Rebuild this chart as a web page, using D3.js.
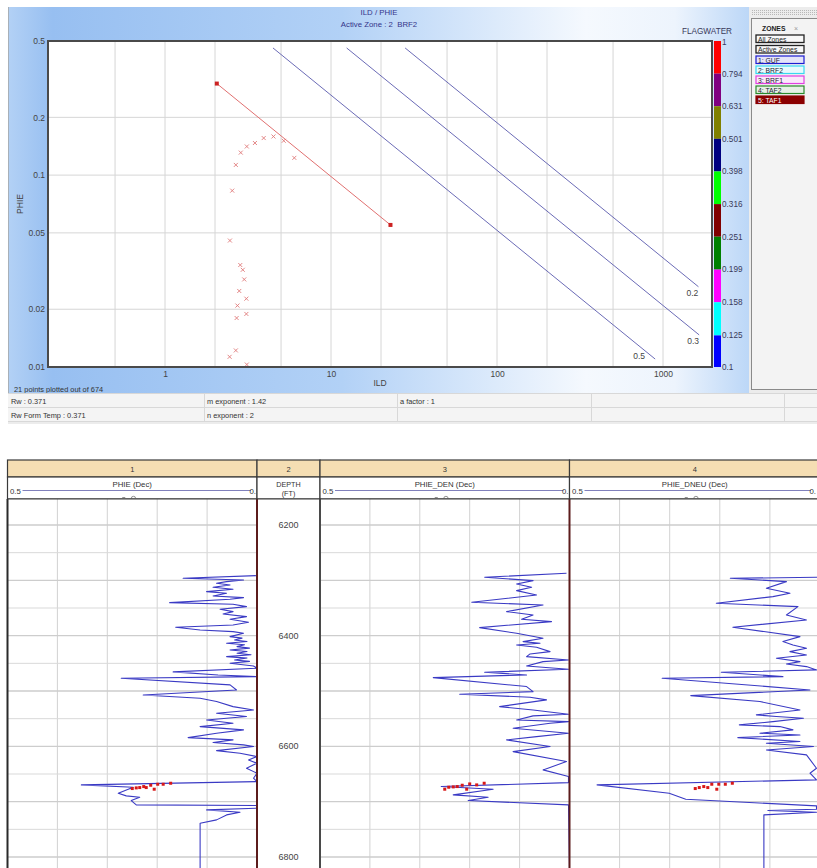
<!DOCTYPE html>
<html>
<head>
<meta charset="utf-8">
<script src="https://cdn.jsdelivr.net/npm/d3@7"></script>
<style>
  html, body { margin: 0; padding: 0; background: #fff; }
  svg { display: block; font-family: "Liberation Sans", Arial, sans-serif; }
</style>
</head>
<body>
<svg id="chart" width="817" height="868"></svg>
<script>
// ---------- Archie parameters ----------
const rw = 0.371, rwFormTemp = 0.371, mExp = 1.42, nExp = 2, aFactor = 1;
const pointsPlotted = 21, pointsTotal = 674;

// ---------- ILD / PHIE crossplot points (active zone BRF2) ----------
const ildValues  = [2.67, 2.86, 3.11, 3.48, 3.93, 4.50, 5.19, 6.01, 2.54, 2.46, 2.84,
                    2.94, 3.00, 2.80, 3.09, 2.73, 2.70, 3.09, 2.67, 2.45, 3.11];
const phieValues = [0.113, 0.131, 0.141, 0.147, 0.156, 0.159, 0.151, 0.123, 0.083, 0.0456, 0.0340,
                    0.0321, 0.0286, 0.0249, 0.0227, 0.0209, 0.0180, 0.0189, 0.0122, 0.0113, 0.0103];

// water line (Sw = 1) porosity span and Sw iso-lines
const waterLinePhi = [0.3, 0.055];
const swValues      = [0.2, 0.3, 0.5];
const swPhiTop      = [0.46, 0.46, 0.46];
const swPhiBottom   = [0.0262, 0.0147, 0.011];

// axis ticks
const ildTicks   = [1, 10, 100, 1000];
const ildGrid    = [0.5, 1, 2, 5, 10, 20, 50, 100, 200, 500, 1000];
const phieTicks  = [0.01, 0.02, 0.05, 0.1, 0.2, 0.5];
const phieGrid   = [0.02, 0.05, 0.1, 0.2];

// FLAGWATER colour key (top to bottom)
const flagTicks  = [1, 0.794, 0.631, 0.501, 0.398, 0.316, 0.251, 0.199, 0.158, 0.125, 0.1];
const flagColors = ["#ff0000", "#800080", "#808000", "#000080", "#00ff00",
                    "#800000", "#008000", "#ff00ff", "#00ffff", "#0000ff"];

// zones
const zoneButtons = ["All Zones", "Active Zones"];
const zoneLabels  = ["1: GUF", "2: BRF2", "3: BRF1", "4: TAF2", "5: TAF1"];
const zoneColors  = ["#1c1cd0", "#38d8f0", "#e040e0", "#2a8a2a", "#8b0000"];
const activeZone  = "2\u00a0 BRF2";

// ---------- log tracks ----------
const trackNumbers = ["1", "2", "3", "4"];
const trackTitles  = ["PHIE (Dec)", "DEPTH", "PHIE_DEN (Dec)", "PHIE_DNEU (Dec)"];
const depthLabels  = [6200, 6400, 6600, 6800];

// [depth ft, value dec]
const phieCurve = [
  [6291.5,0],[6296.3,0.148],[6299.3,0.027],[6302.3,0.061],[6305.4,0.081],[6308.4,0.054],[6312.6,0.088],
  [6316.2,0.048],[6320.4,0.101],[6323.4,0.061],[6328.2,0.088],[6331.2,0.027],[6334.3,0.054],[6340.3,0.175],
  [6343.3,0.048],[6347.5,0.021],[6352.3,0.074],[6356.5,0.048],[6360.8,0.068],[6365.6,0.021],[6370.4,0.054],
  [6375.8,0.017],[6380.6,0.048],[6384.8,0.163],[6389.7,0.114],[6392.7,0.048],[6395.7,0.027],[6401.7,0.054],
  [6404.5,0.030],[6407.7,0.045],[6410.5,0.020],[6413.8,0.061],[6416.5,0.025],[6419.8,0.040],[6422.5,0.015],
  [6425.8,0.054],[6428.5,0.020],[6431.8,0.040],[6434.5,0.012],[6437.8,0.061],[6440.5,0.020],[6443.9,0.045],
  [6446.5,0.015],[6449.9,0.054],[6454.7,0.007],[6458.9,0],[6465.5,0.168],[6471.0,0.078],[6474.0,0],
  [6477.0,0.272],[6489.0,0.054],[6498.1,0.041],[6507.1,0.228],[6513.1,0.114],[6519.1,0.081],[6528.2,0.048],
  [6534.2,0.007],[6540.2,0.081],[6546.2,0.021],[6552.3,0.101],[6558.3,0.048],[6564.3,0.114],[6570.3,0.027],
  [6576.3,0.081],[6584.2,0.138],[6588.4,0.048],[6593.2,0.088],[6597.4,0.027],[6600.4,0.007],[6607.7,0.081],
  [6612.5,0.034],[6618.5,0],[6624.5,0.017],[6630.5,0],[6639.6,0.021],[6648.6,0],[6657.6,0.007],[6663.7,0],
  [6669.7,0.352],[6673.9,0.248],[6684.7,0.278],[6689.5,0.262],[6692.0,0.235],[6698.0,0.252],[6705.8,0.242],
  [6707.0,0],[6711.8,0],[6714.9,0.101],[6719.1,0.034],[6723.9,0.061],[6732.9,0.081],[6738.9,0.114],[6820,0.114]
];
const phieDenCurve = [
  [6287.3,0.006],[6294.5,0.170],[6300.5,0.073],[6306.6,0.106],[6312.6,0.076],[6318.6,0.106],[6326.4,0.066],
  [6339.7,0.196],[6344.5,0.053],[6356.5,0.126],[6362.6,0.073],[6370.4,0.096],[6374.6,0.036],[6385.4,0.180],
  [6395.7,0.106],[6404.7,0.053],[6410.7,0.093],[6413.7,0.059],[6416.8,0.106],[6421.0,0.066],[6428.8,0.039],
  [6433.0,0.079],[6437.8,0.086],[6443.9,0.002],[6446.9,0.053],[6454.7,0.086],[6460.7,0.002],[6466.1,0.170],
  [6471.0,0.086],[6475.8,0.273],[6492.0,0.086],[6501.1,0.073],[6505.9,0.220],[6511.3,0.079],[6516.1,0.046],
  [6528.2,0.140],[6534.2,0.073],[6542.0,0.002],[6545.0,0.073],[6552.3,0.106],[6555.3,0.002],[6558.3,0.039],
  [6567.3,0.113],[6576.3,0.002],[6582.4,0.066],[6588.4,0.126],[6600.4,0.039],[6609.5,0.113],[6627.5,0.006],
  [6642.6,0.053],[6654.6,0.002],[6665.5,0.002],[6672.7,0.257],[6677.5,0.153],[6687.8,0.233],[6692.0,0.163],
  [6698.0,0.203],[6705.8,0.002],[6820,0]
];
const phieDneuCurve = [
  [6294.5,0.003],[6296.3,0.179],[6302.3,0.067],[6314.4,0.107],[6323.4,0.060],[6329.4,0.094],[6341.5,0.207],
  [6347.5,0.044],[6362.6,0.067],[6371.6,0.027],[6384.8,0.174],[6401.7,0.040],[6410.7,0.074],[6416.8,0.054],
  [6422.8,0.027],[6428.8,0.060],[6434.8,0.027],[6440.9,0.087],[6446.9,0.040],[6451.1,0.067],[6455.9,0.027],
  [6461.9,0.007],[6466.1,0.197],[6474.0,0.074],[6477.0,0.315],[6498.1,0.020],[6508.3,0.258],[6519.1,0.120],
  [6534.2,0.040],[6543.2,0.127],[6546.2,0.087],[6549.2,0.033],[6555.3,0.094],[6561.3,0.161],[6564.3,0.080],
  [6570.3,0.054],[6576.3,0.120],[6579.4,0.040],[6584.2,0.164],[6591.4,0.040],[6594.4,0.107],[6600.4,0.013],
  [6606.5,0.107],[6615.5,0.027],[6639.6,0.007],[6648.6,0.020],[6660.6,0.007],[6669.7,0.445],[6684.7,0.301],
  [6695.6,0.268],[6707.6,0.007],[6713.6,0.007],[6716.1,0.104],[6719.1,0.007],[6723.9,0.112],[6820,0.112]
];
// flagged samples shown in red on each track
const phieFlags = [[6676.3,0.250],[6675.1,0.242],[6674.5,0.235],[6672.7,0.227],[6674.5,0.222],
                   [6670.3,0.213],[6677.5,0.206],[6668.5,0.199],[6668.5,0.188],[6666.7,0.173]];
const phieDenFlags = [[6677.5,0.250],[6673.9,0.242],[6673.3,0.233],[6672.7,0.225],[6670.3,0.215],
                      [6677.5,0.206],[6667.9,0.200],[6669.7,0.186],[6666.7,0.171]];
const phieDneuFlags = [[6676.3,0.249],[6674.5,0.241],[6672.7,0.232],[6674.5,0.224],[6668.5,0.216],
                       [6677.5,0.206],[6668.5,0.202],[6668.5,0.189],[6666.7,0.175]];

// ================= drawing =================
const svg = d3.select("#chart");
const defs = svg.append("defs");
const FONT = 8.5;

// ---- crossplot panel background ----
const bg = defs.append("linearGradient").attr("id", "panelBg")
  .attr("x1", 0).attr("x2", 1).attr("y1", 0).attr("y2", 0);
[[0, "#b3d1f5"], [0.06, "#97bff1"], [0.45, "#b2d1f6"], [0.78, "#f5f9fe"],
 [0.9, "#edf4fd"], [1, "#bcd7f7"]].forEach(([o, c]) =>
  bg.append("stop").attr("offset", o).attr("stop-color", c));

svg.append("rect").attr("x", 8).attr("y", 7).attr("width", 741).attr("height", 386)
  .attr("fill", "url(#panelBg)");
svg.append("line").attr("x1", 8.5).attr("x2", 8.5).attr("y1", 7).attr("y2", 393)
  .attr("stroke", "#a8b0b8");

const P = { left: 48, right: 712, top: 41, bottom: 367 };
const x = d3.scaleLog().domain([0.2, 2000]).range([P.left + 1, P.right + 1]);
const y = d3.scaleLog().domain([0.01, 0.5]).range([P.bottom, P.top]);

svg.append("rect").attr("x", P.left).attr("y", P.top)
  .attr("width", P.right - P.left).attr("height", P.bottom - P.top).attr("fill", "#fff");

const plot = svg.append("g");
defs.append("clipPath").attr("id", "plotClip").append("rect")
  .attr("x", P.left).attr("y", P.top).attr("width", P.right - P.left).attr("height", P.bottom - P.top);

// grid
plot.selectAll(".vg").data(ildGrid).join("line")
  .attr("x1", d => x(d)).attr("x2", d => x(d)).attr("y1", P.top).attr("y2", P.bottom)
  .attr("stroke", "#d6d6d6").attr("stroke-width", 1);
plot.selectAll(".hg").data(phieGrid).join("line")
  .attr("x1", P.left).attr("x2", P.right).attr("y1", d => y(d)).attr("y2", d => y(d))
  .attr("stroke", "#d6d6d6").attr("stroke-width", 1);

// Archie resistivity for a given porosity and water saturation
const rt = (phi, sw) => aFactor * rw / (Math.pow(phi, mExp) * Math.pow(sw, nExp));

const lines = plot.append("g").attr("clip-path", "url(#plotClip)");
swValues.forEach((sw, i) => {
  const p0 = [rt(swPhiTop[i], sw), swPhiTop[i]];
  const p1 = [rt(swPhiBottom[i], sw), swPhiBottom[i]];
  lines.append("line")
    .attr("x1", x(p0[0])).attr("y1", y(p0[1])).attr("x2", x(p1[0])).attr("y2", y(p1[1]))
    .attr("stroke", "#5a5aae").attr("stroke-width", 0.9);
  const lx = x(p1[0]) + (sw === 0.5 ? -16 : -6);
  const ly = y(p1[1]) + (sw === 0.5 ? 0 : 9);
  plot.append("text").attr("x", lx).attr("y", ly).attr("text-anchor", "middle")
    .attr("font-size", FONT).attr("fill", "#444").text(String(sw));
});

// water line Sw = 1
const wl = waterLinePhi.map(p => [rt(p, 1), p]);
plot.append("line")
  .attr("x1", x(wl[0][0])).attr("y1", y(wl[0][1])).attr("x2", x(wl[1][0])).attr("y2", y(wl[1][1]))
  .attr("stroke", "#e07070").attr("stroke-width", 1);
plot.selectAll(".wlEnd").data(wl).join("rect")
  .attr("x", d => x(d[0]) - 2).attr("y", d => y(d[1]) - 2).attr("width", 4).attr("height", 4)
  .attr("fill", "#cc2222");

// crossplot points
plot.selectAll(".pt").data(ildValues.map((v, i) => [v, phieValues[i]])).join("path")
  .attr("transform", d => `translate(${x(d[0])},${y(d[1])})`)
  .attr("d", "M-2,-2L2,2M-2,2L2,-2")
  .attr("stroke", "#e07a7a").attr("stroke-width", 0.9).attr("fill", "none");

// frame
svg.append("rect").attr("x", P.left).attr("y", P.top)
  .attr("width", P.right - P.left).attr("height", P.bottom - P.top)
  .attr("fill", "none").attr("stroke", "#4a4a4a").attr("stroke-width", 2);

// axes
const yAxis = svg.append("g").attr("transform", `translate(${P.left},0)`)
  .call(d3.axisLeft(y).tickValues(phieTicks).tickSize(0).tickPadding(3).tickFormat(d => String(d)));
const xAxis = svg.append("g").attr("transform", `translate(0,${P.bottom})`)
  .call(d3.axisBottom(x).tickValues(ildTicks).tickSize(0).tickPadding(4).tickFormat(d => String(d)));
[xAxis, yAxis].forEach(a => {
  a.select(".domain").remove();
  a.selectAll("text").attr("font-size", FONT).attr("fill", "#444")
    .attr("font-family", "Liberation Sans, Arial, sans-serif");
});

svg.append("text").attr("x", 380).attr("y", 386).attr("text-anchor", "middle")
  .attr("font-size", FONT).attr("fill", "#444").text("ILD");
svg.append("text").attr("transform", "translate(23,204) rotate(-90)").attr("text-anchor", "middle")
  .attr("font-size", FONT).attr("fill", "#444").text("PHIE");

// titles
svg.append("text").attr("x", 379).attr("y", 15).attr("text-anchor", "middle")
  .attr("font-size", 7.8).attr("fill", "#34348a").text("ILD / PHIE");
svg.append("text").attr("x", 379).attr("y", 27).attr("text-anchor", "middle")
  .attr("font-size", 7.8).attr("fill", "#34348a").text("Active Zone : " + activeZone);

svg.append("text").attr("x", 14).attr("y", 392).attr("font-size", 7.4).attr("fill", "#333")
  .text(`${pointsPlotted} points plotted out of ${pointsTotal}`);

// ---- FLAGWATER colour key ----
const yFlag = d3.scaleLog().domain([0.1, 1]).range([P.bottom, P.top]);
const key = svg.append("g");
flagColors.forEach((c, i) => {
  key.append("rect").attr("x", 714).attr("width", 7)
    .attr("y", yFlag(flagTicks[i])).attr("height", yFlag(flagTicks[i + 1]) - yFlag(flagTicks[i]))
    .attr("fill", c);
});
key.selectAll(".fl").data(flagTicks).join("text")
  .attr("x", 722).attr("y", d => yFlag(d) + (d === 1 ? 1.5 : 0)).attr("dy", "0.35em")
  .attr("font-size", 8.2).attr("fill", "#3a3a5a").text(d => String(d));
svg.append("text").attr("x", 707).attr("y", 34).attr("text-anchor", "middle")
  .attr("font-size", 8.2).attr("fill", "#3a3a5a").text("FLAGWATER");

// ---- zones panel ----
const zp = svg.append("g");
zp.append("rect").attr("x", 749).attr("y", 7).attr("width", 68).attr("height", 386).attr("fill", "#ececec");
const dots = defs.append("pattern").attr("id", "dots").attr("width", 2).attr("height", 2)
  .attr("patternUnits", "userSpaceOnUse");
dots.append("rect").attr("width", 1).attr("height", 1).attr("fill", "#b8b8b8");
zp.append("rect").attr("x", 751).attr("y", 10).attr("width", 66).attr("height", 6).attr("fill", "url(#dots)");
zp.append("rect").attr("x", 751.5).attr("y", 18.5).attr("width", 66).attr("height", 371)
  .attr("fill", "#f3f3f3").attr("stroke", "#8a8a8a");
zp.append("text").attr("x", 762).attr("y", 31).attr("font-size", 6.8).attr("font-weight", "bold")
  .attr("fill", "#222").text("ZONES");
zp.append("text").attr("x", 794).attr("y", 31).attr("font-size", 7).attr("fill", "#999").text("×");

const btnY = [35, 45.5, 56, 66, 76, 86, 96];
zoneButtons.forEach((t, i) => {
  zp.append("rect").attr("x", 756).attr("y", btnY[i]).attr("width", 48).attr("height", 7.5)
    .attr("fill", "#f8f8f8").attr("stroke", "#222").attr("stroke-width", 1.3);
  zp.append("text").attr("x", 758).attr("y", btnY[i] + 6.6).attr("font-size", 6.8)
    .attr("fill", "#222").text(t);
});
zoneLabels.forEach((t, i) => {
  const last = i === zoneLabels.length - 1;
  const c = d3.color(zoneColors[i]);
  const fill = last ? zoneColors[i] : d3.interpolateRgb(zoneColors[i], "#fff")(0.88);
  zp.append("rect").attr("x", 756).attr("y", btnY[i + 2]).attr("width", 48).attr("height", 7.5)
    .attr("fill", fill).attr("stroke", c).attr("stroke-width", 1.2);
  zp.append("text").attr("x", 758).attr("y", btnY[i + 2] + 6.6).attr("font-size", 6.8)
    .attr("fill", last ? "#fff" : "#223").text(t);
});

// ---- parameter table ----
const infoRows = [
  [`Rw : ${rw}`, `m exponent : ${mExp}`, `a factor : ${aFactor}`],
  [`Rw Form Temp : ${rwFormTemp}`, `n exponent : ${nExp}`]
];
const colX = [8, 204, 397, 591, 784, 817];
const info = svg.append("g");
info.append("rect").attr("x", 8).attr("y", 393.5).attr("width", 809).attr("height", 28)
  .attr("fill", "#f4f4f4");
[393.5, 407.5, 421.5].forEach(yy => info.append("line").attr("x1", 8).attr("x2", 817)
  .attr("y1", yy).attr("y2", yy).attr("stroke", "#d8d8d8"));
colX.slice(1, 5).forEach(xx => info.append("line").attr("x1", xx + 0.5).attr("x2", xx + 0.5)
  .attr("y1", 393.5).attr("y2", 421.5).attr("stroke", "#d8d8d8"));
infoRows.forEach((row, r) => row.forEach((t, c) => {
  info.append("text").attr("x", colX[c] + 3).attr("y", 404 + r * 14)
    .attr("font-size", 7.4).attr("fill", "#333").text(t);
}));
info.append("rect").attr("x", 8).attr("y", 422).attr("width", 809).attr("height", 2).attr("fill", "#ececec");

// ================= log tracks =================
const L = { top: 460, h1: 477, h2: 499, bottom: 868 };
const trackX = [[7.5, 257], [257, 320], [320, 569.5], [569.5, 820]];
const yDepth = d3.scaleLinear().domain([6200, 6800]).range([525, 857]);
const logs = svg.append("g");

// headers
trackX.forEach(([x0, x1], i) => {
  logs.append("rect").attr("x", x0).attr("y", L.top).attr("width", x1 - x0).attr("height", L.h1 - L.top)
    .attr("fill", "#f5deb3").attr("stroke", "#3a3a3a").attr("stroke-width", 1.2);
  logs.append("rect").attr("x", x0).attr("y", L.h1).attr("width", x1 - x0).attr("height", L.h2 - L.h1)
    .attr("fill", "#fff").attr("stroke", "#3a3a3a").attr("stroke-width", 1.2);
  logs.append("text").attr("x", (x0 + x1) / 2).attr("y", 471.5).attr("text-anchor", "middle")
    .attr("font-size", 7.5).attr("fill", "#333").text(trackNumbers[i]);
});

// curve header contents
[0, 2, 3].forEach(i => {
  const [x0, x1] = trackX[i];
  const hx1 = Math.min(x1, 817);
  const cx = (x0 + x1) / 2;
  logs.append("text").attr("x", cx).attr("y", 487).attr("text-anchor", "middle")
    .attr("font-size", 7.8).attr("fill", "#333").text(trackTitles[i]);
  logs.append("line").attr("x1", x0 + 15).attr("x2", hx1 - 6).attr("y1", 490.5).attr("y2", 490.5)
    .attr("stroke", "#8080bb").attr("stroke-width", 1);
  logs.append("text").attr("x", x0 + 2.5).attr("y", 493.5).attr("font-size", 7.8)
    .attr("fill", "#333").text("0.5");
  logs.append("text").attr("x", hx1 - 1).attr("y", 493.5).attr("text-anchor", "end")
    .attr("font-size", 7.8).attr("fill", "#333").text("0.");
  // flag legend marks cut by the header edge
  logs.append("line").attr("x1", cx - 10).attr("x2", cx - 7).attr("y1", 497.5).attr("y2", 497.5)
    .attr("stroke", "#777").attr("stroke-width", 0.8);
  logs.append("path").attr("d", `M${cx - 1},498.5 a2.2,2.2 0 0 1 4.4,0`)
    .attr("fill", "none").attr("stroke", "#777").attr("stroke-width", 0.8);
});
logs.append("text").attr("x", 288.5).attr("y", 487).attr("text-anchor", "middle")
  .attr("font-size", 7.2).attr("fill", "#333").text("DEPTH");
logs.append("text").attr("x", 288.5).attr("y", 496).attr("text-anchor", "middle")
  .attr("font-size", 7.2).attr("fill", "#333").text("(FT)");

// data area
const gridDepths = d3.range(6200, 6851, 50);
const valueTicks = [0.4, 0.3, 0.2, 0.1];
const curveSets = { 0: [phieCurve, phieFlags], 2: [phieDenCurve, phieDenFlags], 3: [phieDneuCurve, phieDneuFlags] };

trackX.forEach(([x0, x1], i) => {
  const tg = logs.append("g");
  tg.append("rect").attr("x", x0).attr("y", L.h2).attr("width", x1 - x0).attr("height", L.bottom - L.h2)
    .attr("fill", "#fff");
  if (i === 1) {
    tg.selectAll(".dl").data(depthLabels).join("text")
      .attr("x", 288.5).attr("y", d => yDepth(d)).attr("dy", "0.35em").attr("text-anchor", "middle")
      .attr("font-size", 9).attr("fill", "#444").text(d => d);
    return;
  }
  const xs = d3.scaleLinear().domain([0.5, 0]).range([x0, x1]);
  tg.selectAll(".gv").data(valueTicks).join("line")
    .attr("x1", d => xs(d)).attr("x2", d => xs(d)).attr("y1", L.h2).attr("y2", L.bottom)
    .attr("stroke", "#d2d2d2").attr("stroke-width", 1);
  tg.selectAll(".gh").data(gridDepths).join("line")
    .attr("x1", x0).attr("x2", x1).attr("y1", d => yDepth(d)).attr("y2", d => yDepth(d))
    .attr("stroke", d => d % 100 === 0 ? "#cdcdcd" : "#d9d9d9")
    .attr("stroke-width", d => d % 100 === 0 ? 1.4 : 1);

  const clipId = "trk" + i;
  defs.append("clipPath").attr("id", clipId).append("rect")
    .attr("x", x0).attr("y", L.h2).attr("width", x1 - x0).attr("height", L.bottom - L.h2);
  const [curve, flags] = curveSets[i];
  const line = d3.line().x(d => xs(d[1])).y(d => yDepth(d[0]));
  tg.append("path").datum(curve).attr("d", line).attr("clip-path", `url(#${clipId})`)
    .attr("fill", "none").attr("stroke", "#3a3ac4").attr("stroke-width", 1.1)
    .attr("stroke-linejoin", "round");
  tg.selectAll(".fg").data(flags).join("rect")
    .attr("x", d => xs(d[1]) - 1.5).attr("y", d => yDepth(d[0]) - 1.5)
    .attr("width", 3).attr("height", 3).attr("fill", "#d81818");
});

// track borders
const borders = [[7.5, "#2a2a2a"], [257, "#5c1c1c"], [320, "#4a4a4a"], [569.5, "#5c1c1c"]];
borders.forEach(([bx, c]) => logs.append("line").attr("x1", bx).attr("x2", bx)
  .attr("y1", L.h2).attr("y2", L.bottom).attr("stroke", c).attr("stroke-width", 2));
logs.append("line").attr("x1", 7).attr("x2", 817).attr("y1", L.h2).attr("y2", L.h2)
  .attr("stroke", "#3a3a3a").attr("stroke-width", 1.2);
</script>
</body>
</html>
